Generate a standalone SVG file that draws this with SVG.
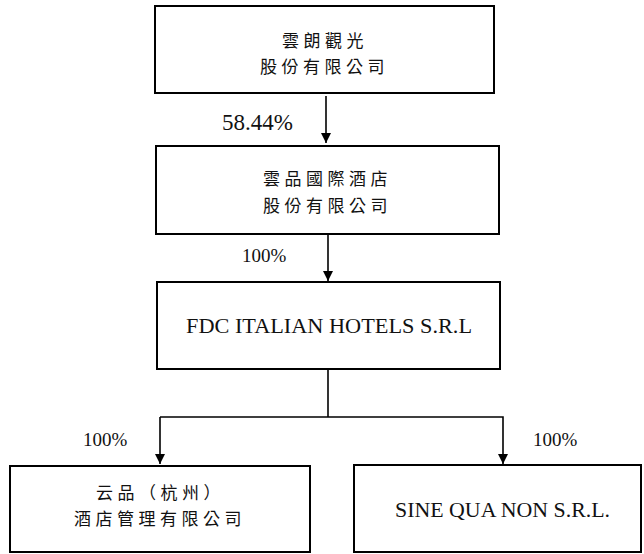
<svg xmlns="http://www.w3.org/2000/svg" width="644" height="554" viewBox="0 0 644 554">
<style>
.box{fill:#fff;stroke:#000;stroke-width:2}
.cjk{font-family:"Noto Sans CJK TC","Noto Sans CJK SC",sans-serif;font-size:17px;letter-spacing:4.5px;fill:#111}
.lat{font-family:"Liberation Serif","Times New Roman",serif;fill:#111}
.ln{stroke:#000;stroke-width:1.6;fill:none}
</style>
<defs>
<marker id="ah" viewBox="0 0 10 10" refX="10" refY="5" markerWidth="10" markerHeight="10" markerUnits="userSpaceOnUse" orient="auto">
<path d="M0,0 L10,5 L0,10 Z" fill="#000"/>
</marker>
</defs>
<rect width="644" height="554" fill="#fff"/>
<g id="connectors">
<line class="ln" x1="326" y1="96" x2="326" y2="143" marker-end="url(#ah)"/>
<line class="ln" x1="328" y1="235" x2="328" y2="281" marker-end="url(#ah)"/>
<polyline class="ln" points="328,370 328,417"/>
<polyline class="ln" points="160,417 503,417 503,464" marker-end="url(#ah)"/>
<line class="ln" x1="160" y1="417" x2="160" y2="464" marker-end="url(#ah)"/>
<text class="lat" x="222" y="130" font-size="23">58.44%</text>
<text class="lat" x="242" y="262" font-size="19">100%</text>
<text class="lat" x="83" y="446" font-size="19">100%</text>
<text class="lat" x="533" y="446" font-size="19">100%</text>
</g>
<g id="node1">
<rect class="box" x="155" y="6" width="339" height="87"/>
<text class="cjk" x="282" y="47">雲朗觀光</text>
<text class="cjk" x="260" y="73">股份有限公司</text>
</g>
<g id="node2">
<rect class="box" x="156" y="146" width="343" height="88"/>
<text class="cjk" x="263" y="185">雲品國際酒店</text>
<text class="cjk" x="263" y="212">股份有限公司</text>
</g>
<g id="node3">
<rect class="box" x="157" y="282" width="343" height="87"/>
<text class="lat" x="186" y="333" font-size="21" textLength="286" lengthAdjust="spacingAndGlyphs">FDC ITALIAN HOTELS S.R.L</text>
</g>
<g id="node4">
<rect class="box" x="10" y="466" width="300" height="86"/>
<text class="cjk" x="96" y="499">云品（杭州）</text>
<text class="cjk" x="74" y="525">酒店管理有限公司</text>
</g>
<g id="node5">
<rect class="box" x="354" y="465" width="287" height="87"/>
<text class="lat" x="395" y="517" font-size="21" textLength="215" lengthAdjust="spacingAndGlyphs">SINE QUA NON S.R.L.</text>
</g>
</svg>
